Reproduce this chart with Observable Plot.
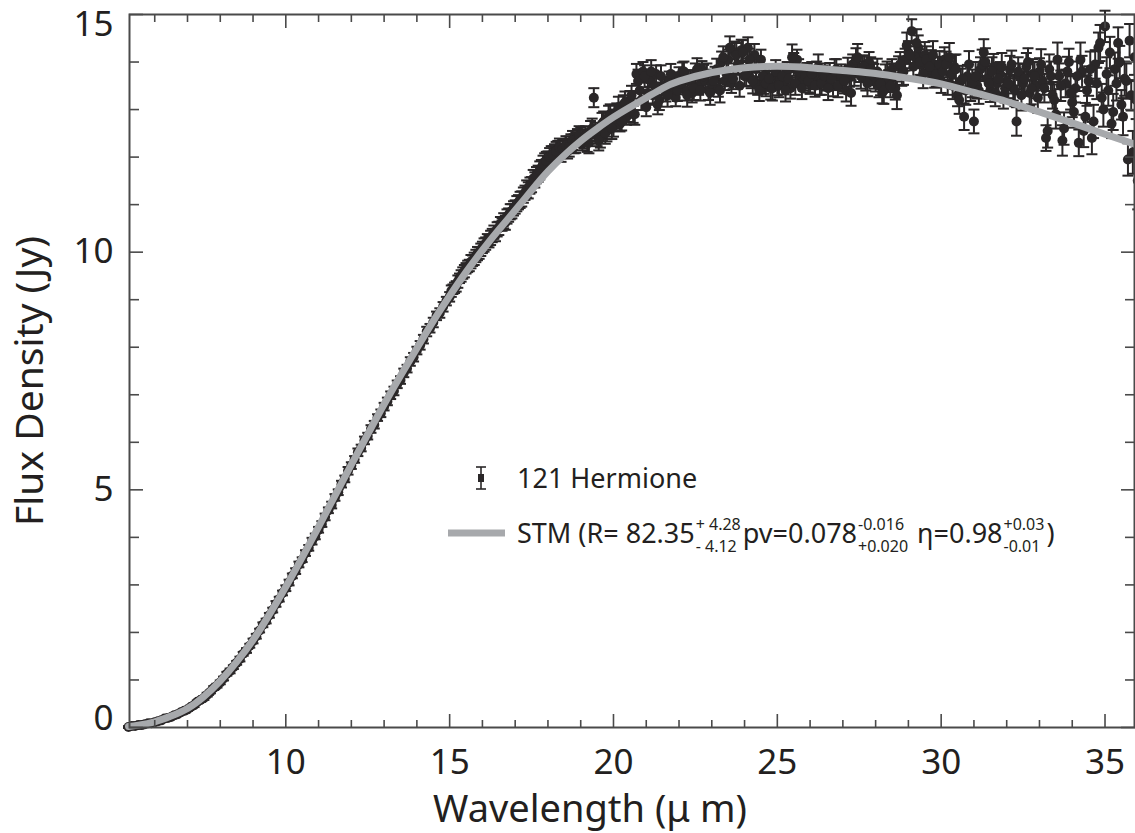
<!DOCTYPE html>
<html><head><meta charset="utf-8">
<script src="https://cdn.jsdelivr.net/npm/d3@7"></script>
<script src="https://cdn.jsdelivr.net/npm/@observablehq/plot@0.6"></script>
<style>
body{margin:0;background:#fff;}
#wrap{position:relative;width:1135px;height:833px;font-family:"Noto Sans",sans-serif;color:#231f20;overflow:hidden;}
#wrap svg.plot{position:absolute;left:0;top:0;}
.leg{position:absolute;display:flex;align-items:center;font-size:27px;line-height:36px;white-space:nowrap;}
.st{display:flex;flex-direction:column;font-size:16px;line-height:22px;margin:4px 2px 0 1px;}
.st span{display:block;height:22px;}
</style></head><body><div id="wrap"></div>
<script>
// Observed spectrum of 121 Hermione (short-wavelength module)
const wavelength = [
5.2,5.3,5.4,5.5,5.6,5.7,5.8,5.9,6.0,
6.1,6.2,6.3,6.4,6.5,6.6,6.7,6.8,6.9,7.0,
7.1,7.2,7.3,7.4,7.5,7.6,7.7,7.8,7.9,8.0,
8.1,8.2,8.3,8.4,8.5,8.6,8.7,8.8,8.9,9.0,
9.1,9.2,9.3,9.4,9.5,9.6,9.7,9.8,9.9,10.0,
10.1,10.2,10.3,10.4,10.5,10.6,10.7,10.8,10.9,11.0,
11.1,11.2,11.3,11.4,11.5,11.6,11.7,11.8,11.9,12.0,
12.1,12.2,12.3,12.4,12.5,12.6,12.7,12.8,12.9,13.0,
13.1,13.2,13.3,13.4,13.5,13.6,13.7,13.8,13.9,14.0,
14.1,14.2,14.3,14.4,14.5,14.6,14.7,14.8,14.9,15.0,
15.1,15.2,15.3,15.4,15.5,15.6,15.7,15.8,15.9,16.0,
16.1,16.2,16.3,16.4,16.5,16.6,16.7,16.8,16.9,17.0,
17.1,17.2,17.3,17.4,17.5,17.6,17.7,17.8,17.9,18.0,
18.1,18.2,18.3,18.4,18.5,18.6,18.7,18.8,18.9,19.0,
19.1,19.2,19.3,19.4,19.5,19.6,19.7,19.8,19.9,20.0,
20.1,20.2,20.3,20.4,20.5,20.6,20.7,20.8,20.9,21.0,
21.1,21.2,21.3,21.4,21.5,21.6,21.7,21.8,21.9,22.0,
22.1,22.2,22.3,22.4,22.5,22.6,22.7,22.8,22.9,23.0,
23.1,23.2,23.3,23.4,23.5,23.6,23.7,23.8,23.9,24.0,
24.1,24.2,24.3,24.4,24.5,24.6,24.7,24.8,24.9,25.0,
25.1,25.2,25.3,25.4,25.5,25.6,25.7,25.8,25.9,26.0,
26.1,26.2,26.3,26.4,26.5,26.6,26.7,26.8,26.9,27.0,
27.1,27.2,27.3,27.4,27.5,27.6,27.7,27.8,27.9,28.0,
28.1,28.2,28.3,28.4,28.5,28.6,28.7,28.8,28.9,29.0,
29.1,29.2,29.3,29.4,29.5,29.6,29.7,29.8,29.9,30.0,
30.1,30.2,30.3,30.4,30.5,30.6,30.7,30.8,30.9,31.0,
31.1,31.2,31.3,31.4,31.5,31.6,31.7,31.8,31.9,32.0,
32.1,32.2,32.3,32.4,32.5,32.6,32.7,32.8,32.9,33.0,
33.1,33.2,33.3,33.4,33.5,33.6,33.7,33.8,33.9,34.0,
34.1,34.2,34.3,34.4,34.5,34.6,34.7,34.8,34.9,35.0,
35.1,35.2,35.3,35.4,35.5,35.6,35.7,35.8,35.9,36.0];

const flux = [
0.01,0.03,0.03,0.05,0.05,0.07,0.09,0.09,0.11,
0.13,0.15,0.19,0.20,0.22,0.26,0.28,0.32,0.35,0.38,
0.43,0.47,0.54,0.58,0.62,0.69,0.75,0.83,0.88,0.95,
1.03,1.13,1.19,1.27,1.36,1.44,1.55,1.62,1.72,1.82,
1.92,2.04,2.16,2.24,2.36,2.47,2.60,2.70,2.83,2.93,
3.05,3.19,3.29,3.43,3.53,3.67,3.78,3.92,4.02,4.16,
4.28,4.43,4.57,4.68,4.84,4.95,5.12,5.23,5.40,5.51,
5.64,5.79,5.88,6.04,6.13,6.28,6.37,6.52,6.61,6.75,
6.86,6.99,7.08,7.22,7.31,7.46,7.55,7.70,7.79,7.93,
8.04,8.17,8.33,8.40,8.52,8.66,8.72,8.85,8.97,9.06,
9.22,9.28,9.45,9.56,9.66,9.72,9.82,9.92,9.98,10.10,
10.18,10.22,10.35,10.36,10.50,10.58,10.62,10.78,10.86,10.95,
11.05,11.12,11.25,11.30,11.42,11.52,11.65,11.78,11.90,11.95,
12.05,12.10,12.15,12.08,12.20,12.16,12.30,12.28,12.40,12.42,
12.38,12.30,12.55,13.25,12.45,12.40,12.75,12.55,12.90,12.65,
12.95,12.70,13.10,12.85,13.20,12.90,13.75,13.40,13.80,13.05,
13.65,13.30,13.75,13.20,13.50,13.35,13.60,13.45,13.25,13.70,
13.80,13.40,13.65,13.35,13.75,13.50,13.85,13.60,13.40,13.55,
13.70,13.45,14.00,13.60,14.05,13.55,14.20,13.95,14.25,13.70,
14.30,13.65,14.15,13.50,14.05,13.55,13.60,13.45,13.70,13.50,
13.65,13.55,13.80,13.45,13.95,14.05,13.70,13.60,13.75,13.55,
13.65,13.80,13.55,13.70,13.60,13.75,13.50,13.85,13.65,13.60,
13.40,13.70,13.95,14.05,13.80,13.90,13.65,14.00,13.75,13.60,
13.50,13.35,13.70,13.60,13.85,13.45,13.90,13.75,14.05,14.20,
14.65,14.10,14.30,13.95,14.15,13.80,14.00,13.70,13.85,13.60,
14.05,13.55,13.75,13.90,13.30,13.60,12.85,13.70,13.45,12.75,
13.50,13.85,14.20,13.65,13.40,13.90,13.55,13.75,13.30,13.60,
13.85,13.45,12.75,13.70,13.55,13.90,13.35,13.75,13.50,13.80,
13.60,12.40,13.85,13.30,12.90,13.70,12.35,13.55,14.00,13.15,
13.45,12.30,13.80,12.85,13.60,12.40,13.95,14.30,13.25,14.75,
13.40,12.70,13.85,14.40,13.10,13.65,11.95,13.30,14.10,11.50];

const fluxError = [
.02,.02,.02,.02,.02,.03,.02,.03,.03,
.03,.03,.03,.03,.03,.03,.03,.03,.04,.03,
.03,.04,.03,.04,.04,.04,.03,.04,.04,.04,
.04,.04,.05,.04,.04,.05,.04,.05,.04,.05,
.05,.04,.05,.05,.05,.05,.06,.05,.05,.06,
.06,.05,.06,.06,.05,.06,.06,.07,.06,.06,
.06,.07,.06,.07,.07,.06,.07,.07,.08,.07,
.07,.08,.07,.08,.07,.08,.08,.07,.08,.08,
.08,.08,.09,.08,.08,.09,.08,.09,.09,.08,
.09,.09,.10,.09,.10,.09,.10,.10,.09,.10,
.10,.11,.10,.12,.11,.12,.11,.13,.12,.12,
.13,.12,.14,.13,.14,.13,.15,.14,.15,.14,
.15,.16,.15,.17,.16,.16,.17,.16,.18,.17,
.18,.17,.19,.18,.18,.19,.18,.20,.19,.20,
.20,.19,.21,.20,.22,.20,.21,.22,.21,.22,
.18,.16,.20,.17,.19,.18,.21,.17,.20,.19,
.17,.20,.18,.21,.19,.18,.20,.22,.18,.19,
.19,.21,.18,.20,.22,.19,.17,.21,.20,.18,
.20,.18,.22,.19,.21,.20,.23,.19,.22,.21,
.22,.20,.23,.19,.21,.22,.20,.24,.21,.20,
.21,.23,.20,.22,.24,.21,.22,.20,.23,.22,
.22,.21,.24,.22,.20,.23,.22,.21,.24,.22,
.23,.22,.21,.24,.22,.23,.25,.21,.24,.22,
.24,.22,.25,.23,.21,.24,.22,.25,.23,.24,
.25,.23,.26,.24,.27,.23,.25,.24,.26,.25,
.26,.24,.27,.25,.23,.26,.28,.24,.27,.25,
.27,.25,.28,.26,.24,.27,.29,.25,.28,.26,
.28,.26,.30,.27,.25,.29,.27,.31,.26,.28,
.29,.27,.31,.28,.30,.27,.32,.29,.28,.31,
.30,.28,.33,.29,.31,.34,.30,.32,.29,.33,
.32,.30,.35,.33,.31,.36,.34,.32,.37,.60];

// Observed spectrum of 121 Hermione (long-wavelength module, interleaved samples)
const wavelength2 = [
15.05,15.15,15.25,15.35,15.45,15.55,15.65,15.75,15.85,15.95,
16.05,16.15,16.25,16.35,16.45,16.55,16.65,16.75,16.85,16.95,
17.05,17.15,17.25,17.35,17.45,17.55,17.65,17.75,17.85,17.95,
18.05,18.15,18.25,18.35,18.45,18.55,18.65,18.75,18.85,18.95,
19.05,19.15,19.25,19.35,19.45,19.55,19.65,19.75,19.85,19.95,
20.05,20.15,20.25,20.35,20.45,20.55,20.65,20.75,20.85,20.95,
21.05,21.15,21.25,21.35,21.45,21.55,21.65,21.75,21.85,21.95,
22.05,22.15,22.25,22.35,22.45,22.55,22.65,22.75,22.85,22.95,
23.05,23.15,23.25,23.35,23.45,23.55,23.65,23.75,23.85,23.95,
24.05,24.15,24.25,24.35,24.45,24.55,24.65,24.75,24.85,24.95,
25.05,25.15,25.25,25.35,25.45,25.55,25.65,25.75,25.85,25.95,
26.05,26.15,26.25,26.35,26.45,26.55,26.65,26.75,26.85,26.95,
27.05,27.15,27.25,27.35,27.45,27.55,27.65,27.75,27.85,27.95,
28.05,28.15,28.25,28.35,28.45,28.55,28.65,28.75,28.85,28.95,
29.05,29.15,29.25,29.35,29.45,29.55,29.65,29.75,29.85,29.95,
30.05,30.15,30.25,30.35,30.45,30.55,30.65,30.75,30.85,30.95,
31.05,31.15,31.25,31.35,31.45,31.55,31.65,31.75,31.85,31.95,
32.05,32.15,32.25,32.35,32.45,32.55,32.65,32.75,32.85,32.95,
33.05,33.15,33.25,33.35,33.45,33.55,33.65,33.75,33.85,33.95,
34.05,34.15,34.25,34.35,34.45,34.55,34.65,34.75,34.85,34.95,
35.05,35.15,35.25,35.35,35.45,35.55,35.65,35.75,35.85,35.95];

const flux2 = [
9.18,9.25,9.38,9.50,9.60,9.70,9.80,9.86,9.97,10.05,
10.15,10.25,10.30,10.42,10.48,10.60,10.66,10.75,10.85,10.92,
11.02,11.10,11.20,11.33,11.40,11.55,11.62,11.72,11.85,11.92,
12.00,12.05,12.12,12.20,12.18,12.25,12.22,12.35,12.30,12.45,
12.35,12.45,12.30,12.60,12.50,12.35,12.70,12.50,12.85,12.60,
12.80,13.05,12.75,13.15,12.95,13.30,12.90,13.60,13.20,13.70,
13.35,13.80,13.50,13.10,13.70,13.45,13.30,13.75,13.55,13.40,
13.55,13.80,13.30,13.60,13.45,13.85,13.40,13.70,13.75,13.35,
13.60,13.85,13.40,14.10,13.75,14.30,13.65,14.15,13.50,14.20,
13.75,14.05,13.60,13.85,13.40,13.70,13.55,13.65,13.45,13.80,
13.50,13.70,13.40,13.65,14.10,13.55,13.80,13.45,13.70,13.60,
13.75,13.50,13.90,13.55,13.70,13.45,13.65,13.80,13.50,13.70,
13.60,13.85,13.35,13.75,14.10,13.70,13.90,13.55,13.85,13.70,
13.80,13.55,13.40,13.75,13.50,13.70,13.30,13.95,13.80,14.35,
14.15,13.90,14.40,14.00,13.75,14.05,13.90,14.15,13.75,13.95,
13.80,13.95,14.10,13.50,13.85,13.20,13.65,13.40,13.95,13.55,
13.70,13.40,13.95,14.00,13.55,13.80,13.35,13.65,13.90,13.45,
13.55,13.95,13.40,13.80,13.30,13.65,14.00,13.45,13.70,13.25,
13.95,13.45,12.55,13.70,13.20,14.05,13.50,12.60,13.80,13.35,
12.95,13.70,14.05,12.55,13.40,13.85,12.75,13.55,14.40,13.00,
13.75,14.20,12.95,13.55,14.00,12.85,13.60,14.45,12.10,13.20];

const fluxError2 = [
.12,.11,.13,.12,.13,.12,.14,.13,.14,.13,
.14,.13,.15,.14,.15,.14,.16,.15,.16,.15,
.16,.17,.16,.18,.17,.18,.17,.19,.18,.19,
.19,.18,.20,.19,.20,.19,.21,.20,.21,.20,
.21,.20,.22,.21,.22,.21,.23,.22,.23,.22,
.20,.22,.19,.23,.21,.20,.22,.24,.21,.23,
.22,.24,.21,.20,.23,.22,.24,.21,.23,.22,
.23,.21,.24,.22,.25,.23,.21,.24,.22,.25,
.24,.22,.25,.23,.26,.24,.22,.25,.23,.26,
.25,.23,.26,.24,.22,.25,.27,.23,.26,.24,
.24,.26,.23,.25,.27,.24,.26,.23,.25,.24,
.25,.23,.26,.24,.27,.25,.23,.26,.24,.25,
.26,.24,.27,.25,.28,.26,.24,.27,.25,.26,
.27,.25,.28,.26,.24,.27,.29,.26,.28,.27,
.28,.26,.29,.27,.30,.28,.26,.29,.27,.28,
.29,.27,.30,.28,.31,.29,.27,.30,.28,.29,
.30,.28,.31,.29,.32,.30,.28,.31,.29,.30,
.31,.29,.33,.30,.32,.31,.29,.34,.30,.32,
.32,.30,.35,.31,.33,.36,.32,.34,.31,.35,
.33,.31,.36,.34,.32,.37,.35,.33,.38,.36,
.35,.33,.38,.36,.34,.39,.37,.35,.45,.40];

// STM model curve
const modelWavelength = [5.2,5.5,6,6.5,7,7.5,8,8.5,9,9.5,10,10.5,11,11.5,12,12.5,13,13.5,14,14.5,15,15.5,16,16.5,17,17.5,18,18.5,19,19.5,20,20.5,21,21.5,22,23,24,25,26,27,28,29,30,31,32,33,34,35,36];
const modelFlux = [0.02,0.05,0.12,0.24,0.40,0.65,0.98,1.38,1.84,2.38,2.96,3.58,4.22,4.88,5.53,6.17,6.80,7.40,7.98,8.55,9.08,9.58,10.04,10.47,10.88,11.30,11.70,12.04,12.34,12.60,12.84,13.05,13.25,13.45,13.60,13.78,13.88,13.91,13.88,13.82,13.76,13.66,13.54,13.36,13.17,12.95,12.72,12.48,12.25];

const xTicksMajor = [10,15,20,25,30,35];
const xTicksMinor = [6,7,8,9,11,12,13,14,16,17,18,19,21,22,23,24,26,27,28,29,31,32,33,34];
const yTicksMajor = [0,5,10,15];
const yTicksMinor = [1,2,3,4,6,7,8,9,11,12,13,14];

const points = wavelength.map((w, i) => ({w, f: flux[i], e: fluxError[i]}))
  .concat(wavelength2.map((w, i) => ({w, f: flux2[i], e: fluxError2[i]})));
const model = modelWavelength.map((w, i) => ({w, f: modelFlux[i]}));

const ink = "#2a2728";
const axisInk = "#4a4a4a";
const capSymbol = {draw(ctx, size) { const r = Math.sqrt(size / Math.PI); ctx.moveTo(-r, 0); ctx.lineTo(r, 0); }};

const chart = Plot.plot({
  width: 1135, height: 833,
  marginLeft: 129, marginRight: 1, marginTop: 14, marginBottom: 106,
  style: {fontFamily: '"Noto Sans", sans-serif', color: "#231f20", background: "white"},
  x: {domain: [5.23, 35.9]},
  y: {domain: [0, 15]},
  marks: [
    Plot.ruleX(points, {x: "w", y1: d => d.f - d.e, y2: d => d.f + d.e, stroke: ink, strokeWidth: 2}),
    Plot.dot(points, {x: "w", y: d => d.f + d.e, symbol: capSymbol, r: 5.5, stroke: ink, strokeWidth: 2}),
    Plot.dot(points, {x: "w", y: d => d.f - d.e, symbol: capSymbol, r: 5.5, stroke: ink, strokeWidth: 2}),
    Plot.dot(points, {x: "w", y: "f", r: 5, fill: ink, stroke: null}),
    Plot.line(model, {x: "w", y: "f", stroke: "#a7a9ac", strokeWidth: 7, curve: "natural"}),
    Plot.frame({stroke: axisInk, strokeWidth: 2}),
    // inward ticks
    Plot.axisX(xTicksMajor, {anchor: "bottom", tickSize: -13, fill: "none", label: null, stroke: axisInk, strokeWidth: 1.6}),
    Plot.axisX(xTicksMinor, {anchor: "bottom", tickSize: -7, fill: "none", label: null, stroke: axisInk, strokeWidth: 1.6}),
    Plot.axisX(xTicksMajor, {anchor: "top", tickSize: -13, fill: "none", label: null, stroke: axisInk, strokeWidth: 1.6}),
    Plot.axisX(xTicksMinor, {anchor: "top", tickSize: -7, fill: "none", label: null, stroke: axisInk, strokeWidth: 1.6}),
    Plot.axisY(yTicksMajor, {anchor: "left", tickSize: -14, fill: "none", label: null, stroke: axisInk, strokeWidth: 1.6}),
    Plot.axisY(yTicksMinor, {anchor: "left", tickSize: -10, fill: "none", label: null, stroke: axisInk, strokeWidth: 1.6}),
    Plot.axisY(yTicksMajor, {anchor: "right", tickSize: -14, fill: "none", label: null, stroke: axisInk, strokeWidth: 1.6}),
    Plot.axisY(yTicksMinor, {anchor: "right", tickSize: -10, fill: "none", label: null, stroke: axisInk, strokeWidth: 1.6}),
    // tick labels
    Plot.axisX(xTicksMajor, {anchor: "bottom", tickSize: 0, tickPadding: 22, fontSize: 35, label: null, fill: "#231f20"}),
    Plot.axisY([5, 10], {anchor: "left", tickSize: 0, tickPadding: 16, fontSize: 35, label: null, fill: "#231f20"}),
    Plot.axisY([15], {anchor: "left", tickSize: 0, tickPadding: 16, fontSize: 35, label: null, fill: "#231f20", dy: 10}),
    Plot.axisY([0], {anchor: "left", tickSize: 0, tickPadding: 16, fontSize: 35, label: null, fill: "#231f20", dy: -9}),
    // axis titles
    Plot.text(["Wavelength (\u03bc m)"], {frameAnchor: "bottom", lineAnchor: "middle", textAnchor: "middle", dy: 82, dx: -42, fontSize: 38, fill: "#231f20", text: d => d}),
    Plot.text(["Flux Density (Jy)"], {frameAnchor: "left", lineAnchor: "middle", textAnchor: "middle", dx: -99, dy: 10, rotate: -90, fontSize: 39, fill: "#231f20", text: d => d})
  ]
});
chart.classList.add("plot");
const wrap = document.getElementById("wrap");
wrap.appendChild(chart);

// Legend
const legend = document.createElement("div");
legend.innerHTML = `
<div class="leg" style="left:468px;top:460px;">
  <svg width="26" height="34" style="display:block"><g stroke="${ink}" stroke-width="1.6"><line x1="13" y1="6" x2="13" y2="28"/><line x1="8" y1="6" x2="18" y2="6"/><line x1="8" y1="28" x2="18" y2="28"/></g><rect x="10" y="13" width="6" height="8" fill="${ink}"/></svg>
  <span style="margin-left:23px">121 Hermione</span>
</div>
<div class="leg" style="left:448px;top:509px;">
  <svg width="57" height="8" style="display:block"><line x1="0" y1="4" x2="57" y2="4" stroke="#a7a9ac" stroke-width="7"/></svg>
  <span style="margin-left:12px">STM (R= 82.35</span>
  <span class="st"><span>+ 4.28</span><span>- 4.12</span></span>
  <span>pv=0.078</span>
  <span class="st"><span>-0.016</span><span>+0.020</span></span>
  <span style="margin-left:7px">\u03b7=0.98</span>
  <span class="st"><span>+0.03</span><span>-0.01</span></span>
  <span>)</span>
</div>`;
wrap.appendChild(legend);
</script></body></html>
